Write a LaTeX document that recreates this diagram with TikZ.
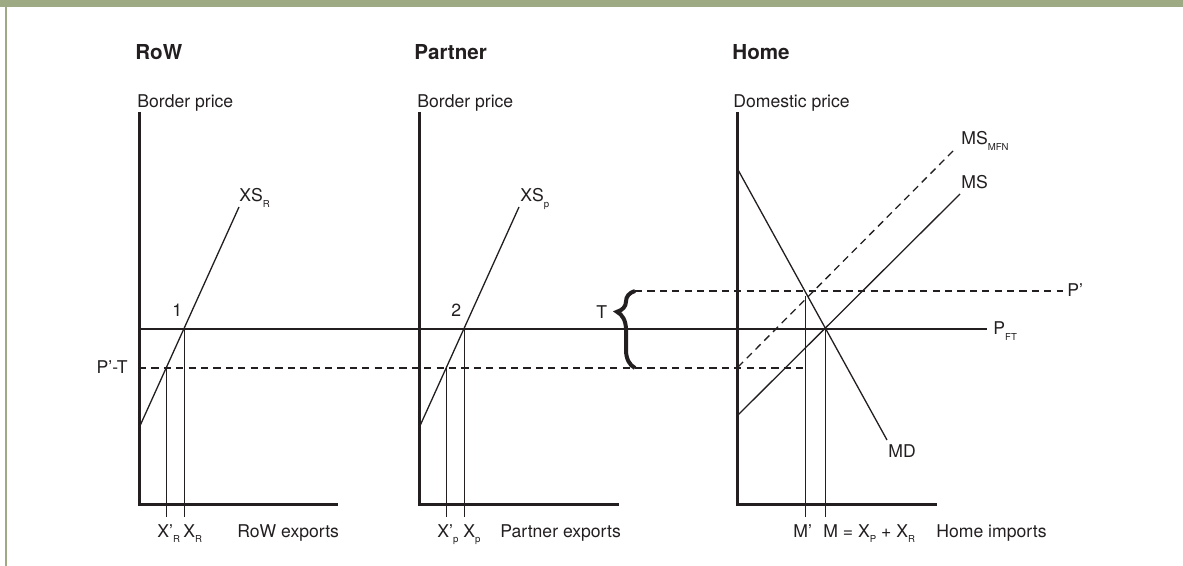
\documentclass[tikz,border=0pt]{standalone}
\usepackage{fontspec}
\setmainfont{TeX Gyre Heros}
\usetikzlibrary{decorations.pathreplacing,calc}
\definecolor{FrameGreen}{HTML}{9DAA83}
\definecolor{InkDark}{HTML}{231F20}
\newcommand{\lowsub}[1]{\raisebox{-0.6ex}{\fontsize{4.8}{5}\selectfont #1}}
\tikzset{
  paneltitle/.style={font=\fontsize{10.3}{12}\selectfont\bfseries, text=InkDark,
                     inner sep=0pt, anchor=base west},
  lbl/.style={font=\fontsize{8.8}{10}\selectfont, text=InkDark, inner sep=0pt,
              anchor=base west},
  axisline/.style={line width=1.5pt, InkDark},
  curve/.style={line width=0.65pt, InkDark},
  dashcurve/.style={curve, dash pattern=on 3.6pt off 2.6pt},
  dropline/.style={line width=0.5pt, InkDark},
}

\begin{document}
\begin{tikzpicture}[x=0.5pt, y=-0.5pt]
  \useasboundingbox (0,0) rectangle (1183,566);

  % frame
  \fill[FrameGreen] (0,0) rectangle (1183,7);
  \fill[FrameGreen] (5,7) rectangle (6.6,566);

  % panel titles
  \node[paneltitle] (rowtitle)  at (135,60) {RoW};
  \node[paneltitle] (partitle)  at (414,60) {Partner};
  \node[paneltitle] (hometitle) at (732,60) {Home};

  % axes
  \draw[axisline] (139,112) -- (139,504) -- (338,504);
  \draw[axisline] (419,112) -- (419,504) -- (619,504);
  \draw[axisline] (737,112) -- (737,504) -- (937,504);
  \node[lbl] (rowprice)  at (137,108) {Border price};
  \node[lbl] (parprice)  at (417,108) {Border price};
  \node[lbl] (homeprice) at (733,108) {Domestic price};

  % price lines
  \draw[curve] (139,329) -- (987,329);
  \draw[dashcurve] (139,368) -- (805,368);
  \draw[dashcurve] (635,291) -- (1063,291);
  \node[lbl] (pft)   at (993,335) {P\lowsub{FT}};
  \node[lbl] (pdash) at (1067,297) {P'};
  \node[lbl, anchor=base east] (pminust) at (128,374) {P'-T};

  % tariff brace
  \draw[line width=2pt, InkDark, decorate,
        decoration={brace, amplitude=9pt, aspect=0.73}] (635,368) -- (635,291);
  \node[lbl] (tariff) at (596,319) {T};

  % export supply curves
  \draw[curve] (139,428) -- (239,207);
  \draw[curve] (419,428) -- (519,207);
  \node[lbl] (xsr) at (239,202) {XS\lowsub{R}};
  \node[lbl] (xsp) at (520,202) {XS\lowsub{p}};
  \node[lbl] (one) at (172,317) {1};
  \node[lbl] (two) at (451,317) {2};

  % home market
  \draw[curve] (737,168) -- (887,440);
  \draw[curve] (737,416) -- (960,194);
  \draw[dashcurve] (738,367) -- (956,148);
  \node[lbl] (md)    at (888,458) {MD};
  \node[lbl] (ms)    at (961,189) {MS};
  \node[lbl] (msmfn) at (961,145) {MS\lowsub{MFN}};

  % quantities
  \draw[dropline] (166,368) -- (166,517);
  \draw[dropline] (184,329) -- (184,517);
  \draw[dropline] (446,368) -- (446,517);
  \draw[dropline] (464,329) -- (464,517);
  \draw[dropline] (805,296) -- (805,517);
  \draw[dropline] (825,329) -- (825,517);

  \node[lbl] (xrdash) at (157,537) {X'\lowsub{R}};
  \node[lbl] (xr)     at (183,537) {X\lowsub{R}};
  \node[lbl] (rowexp) at (237,537) {RoW exports};
  \node[lbl] (xpdash) at (437,537) {X'\lowsub{p}};
  \node[lbl] (xp)     at (463,537) {X\lowsub{p}};
  \node[lbl] (parexp) at (500,537) {Partner exports};
  \node[lbl] (mdash)  at (793,537) {M'};
  \node[lbl] (msum)   at (823,537) {M = X\lowsub{P} + X\lowsub{R}};
  \node[lbl] (homeimp) at (936,537) {Home imports};
\end{tikzpicture}
\end{document}
